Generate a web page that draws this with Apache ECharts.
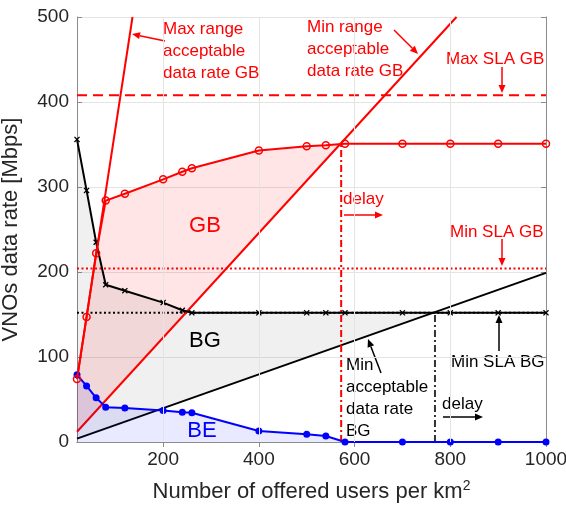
<!DOCTYPE html>
<html><head><meta charset="utf-8">
<script src="https://cdn.jsdelivr.net/npm/echarts@6/dist/echarts.min.js"></script>
<style>html,body{margin:0;padding:0;background:#fff}#c{width:566px;height:509px}</style>
</head><body><div id="c"></div>
<script>
// ---- data ----
const xUsers = [20, 40, 60, 80, 120, 200, 240, 260, 400, 500, 540, 580, 700, 800, 900, 1000];
const gbRate = [74, 147, 222, 284, 292, 309, 318, 322, 343, 348, 349, 351, 351, 351, 351, 351];
const bgRate = [356, 296, 235, 185, 178, 164, 155, 152, 152, 152, 152, 152, 152, 152, 152, 152];
const beRate = [79, 66, 52, 41, 40, 37, 35, 34.5, 13, 9, 7, 0, 0, 0, 0, 0];
const maxRangeGB = [[20, 74], [136, 500]];
const minRangeGB = [[20, 12], [813, 500]];
const minRateBG = [[20, 4], [1000, 199]];
const maxSlaGB = 408, minSlaGB = 204, minSlaBG = 152;
const gbDelayX = 572, bgDelayX = 768;
const xTicks = [200, 400, 600, 800, 1000];
const xGrid = [200, 400, 600, 800];

const FONT = "'Liberation Sans', Arial, Helvetica, sans-serif";
const RED = '#ff0000', BLUE = '#0000ff', BLACK = '#000000';
const AX = '#8c8c8c', TXT = '#262626';

function regionAbove(xs, ys, seg) {
  const [[x1, y1], [x2, y2]] = seg;
  const k = (y2 - y1) / (x2 - x1);
  const L = x => y1 + k * (x - x1);
  const poly = [[xs[0], L(xs[0])]];
  for (let i = 0; i < xs.length; i++) {
    const d = ys[i] - L(xs[i]);
    if (d >= 0) poly.push([xs[i], ys[i]]);
    else {
      const dp = ys[i - 1] - L(xs[i - 1]);
      const t = dp / (dp - d);
      poly.push([xs[i - 1] + t * (xs[i] - xs[i - 1]), ys[i - 1] + t * (ys[i] - ys[i - 1])]);
      break;
    }
  }
  return poly;
}
const pairs = ys => xUsers.map((x, i) => [x, ys[i]]);
const gbPoly = regionAbove(xUsers, gbRate, minRangeGB);
const bgPoly = regionAbove(xUsers, bgRate, minRateBG);

function fillSeries(poly, color) {
  return {
    type: 'custom', silent: true, z: 1, clip: true,
    data: [[xUsers[0], 0]],
    renderItem: (params, api) => ({
      type: 'polygon',
      shape: { points: poly.map(p => api.coord(p)) },
      style: { fill: color, stroke: null }
    })
  };
}
function refLine(data, color, type, z) {
  return {
    type: 'line', data, symbol: 'none', silent: true, z: z || 3,
    lineStyle: { color, width: 2, type: type || 'solid' }
  };
}

function arrow(x1, y1, x2, y2, color) {
  const a = Math.atan2(y2 - y1, x2 - x1), L = 8, W = 3.5;
  const bx = x2 - L * Math.cos(a), by = y2 - L * Math.sin(a);
  const px = -Math.sin(a) * W, py = Math.cos(a) * W;
  return [
    { type: 'line', shape: { x1, y1, x2: bx, y2: by }, style: { stroke: color, lineWidth: 1.5 } },
    { type: 'polygon', shape: { points: [[x2, y2], [bx + px, by + py], [bx - px, by - py]] }, style: { fill: color } }
  ];
}
function label(text, x, y, color, size, align, vAlign) {
  return {
    type: 'text', x, y,
    style: { text, fill: color, fontSize: size, fontFamily: FONT, lineHeight: 22,
      align: align || 'left', verticalAlign: vAlign || 'middle' }
  };
}

const graphics = [].concat(
  label('Max range\nacceptable\ndata rate GB', 163, 18, RED, 17, 'left', 'top'),
  arrow(165, 41, 132, 34, RED),
  label('Min range\nacceptable\ndata rate GB', 307, 16, RED, 17, 'left', 'top'),
  arrow(394, 30, 418, 54, RED),
  label('Max SLA GB', 446, 59, RED, 17),
  arrow(502, 67, 502, 93, RED),
  label('delay', 343, 199, RED, 17),
  arrow(344, 215, 383, 215, RED),
  label('Min SLA GB', 450, 232, RED, 17),
  arrow(502, 239, 502, 266, RED),
  label('Min\nacceptable\ndata rate\nBG', 346, 354, BLACK, 17, 'left', 'top'),
  arrow(381, 373, 368, 339, BLACK),
  label('Min SLA BG', 451, 362, BLACK, 17),
  arrow(499, 351, 499, 315, BLACK),
  label('delay', 442, 404, BLACK, 17),
  arrow(443, 417, 483, 417, BLACK),
  label('GB', 205, 226, RED, 22, 'center'),
  label('BG', 205, 341, BLACK, 22, 'center'),
  label('BE', 202, 431, BLUE, 22, 'center'),
  [{
    type: 'text', x: 311.5, y: 492,
    style: { text: 'Number of offered users per km{s|2}', fill: TXT, fontSize: 22, fontFamily: FONT,
      align: 'center', verticalAlign: 'middle', lineHeight: 26,
      rich: { s: { fontSize: 14, fontFamily: FONT, fill: TXT, verticalAlign: 'top', lineHeight: 14 } } }
  }, {
    type: 'text', x: 11, y: 229.5, rotation: Math.PI / 2,
    style: { text: 'VNOs data rate [Mbps]', fill: TXT, fontSize: 22, fontFamily: FONT,
      align: 'center', verticalAlign: 'middle' }
  }]
);

const xMarker = 'path://M0,1.5L1.5,0L5,3.5L8.5,0L10,1.5L6.5,5L10,8.5L8.5,10L5,6.5L1.5,10L0,8.5L3.5,5Z';

const option = {
  animation: false,
  backgroundColor: '#fff',
  grid: { left: 77, right: 20, top: 17, bottom: 67, containLabel: false, outerBoundsMode: 'none' },
  xAxis: [{
    type: 'value', min: 20, max: 1000, position: 'bottom',
    axisLine: { show: true, lineStyle: { color: AX, width: 1 } },
    axisTick: { show: true, inside: true, length: 5, customValues: xTicks, lineStyle: { color: AX } },
    axisLabel: { customValues: xTicks, fontSize: 19, color: TXT, fontFamily: FONT, margin: 8,
      formatter: v => String(v) },
    splitLine: { show: false }
  }, {
    type: 'value', min: 20, max: 1000, position: 'top',
    axisLine: { show: true, lineStyle: { color: AX, width: 1 } },
    axisTick: { show: true, inside: true, length: 5, customValues: xTicks, lineStyle: { color: AX } },
    axisLabel: { show: false }, splitLine: { show: false }
  }],
  yAxis: [{
    type: 'value', min: 0, max: 500, interval: 100,
    axisLine: { show: true, lineStyle: { color: AX, width: 1 } },
    axisTick: { show: true, inside: true, length: 5, lineStyle: { color: AX } },
    axisLabel: { fontSize: 19, color: TXT, fontFamily: FONT, margin: 8, formatter: v => String(v) },
    splitLine: { show: true, lineStyle: { color: '#e4e4e4', width: 1 } }
  }, {
    type: 'value', min: 0, max: 500, interval: 100, position: 'right',
    axisLine: { show: true, lineStyle: { color: AX, width: 1 } },
    axisTick: { show: true, inside: true, length: 5, lineStyle: { color: AX } },
    axisLabel: { show: false }, splitLine: { show: false }
  }],
  graphic: { elements: graphics },
  series: [
    { type: 'line', data: [], silent: true, z: 0,
      markLine: { silent: true, symbol: 'none', label: { show: false },
        lineStyle: { color: '#e4e4e4', type: 'solid', width: 1 },
        data: xGrid.map(v => ({ xAxis: v })) } },
    fillSeries(bgPoly, 'rgba(0,0,0,0.06)'),
    fillSeries(gbPoly, 'rgba(255,0,0,0.10)'),
    refLine([[20, minSlaBG], [1000, minSlaBG]], BLACK, [2, 2.5], 2),
    refLine([[20, maxSlaGB], [1000, maxSlaGB]], RED, [10, 6]),
    refLine([[20, minSlaGB], [1000, minSlaGB]], RED, [2, 2.5]),
    refLine(maxRangeGB, RED),
    refLine(minRangeGB, RED),
    refLine(minRateBG, BLACK),
    refLine([[gbDelayX, 0], [gbDelayX, gbRate[gbRate.length - 1]]], RED, [7, 3, 2, 3]),
    refLine([[bgDelayX, 0], [bgDelayX, minSlaBG]], '#333', [7, 3, 2, 3]),
    { type: 'line', name: 'BE', data: pairs(beRate), z: 4, symbol: 'circle', symbolSize: 7,
      itemStyle: { color: BLUE }, lineStyle: { color: BLUE, width: 2 },
      areaStyle: { color: 'rgba(0,0,255,0.12)' } },
    { type: 'line', name: 'BG', data: pairs(bgRate), z: 4, symbol: xMarker, symbolSize: 6,
      itemStyle: { color: BLACK }, lineStyle: { color: BLACK, width: 2 } },
    { type: 'line', name: 'GB', data: pairs(gbRate), z: 5, symbol: 'circle', symbolSize: 7,
      itemStyle: { color: 'rgba(255,0,0,0)', borderColor: RED, borderWidth: 1.5 },
      lineStyle: { color: RED, width: 2 } }
  ]
};
const chart = echarts.init(document.getElementById('c'), null, { renderer: 'canvas' });
chart.setOption(option);
</script></body></html>
